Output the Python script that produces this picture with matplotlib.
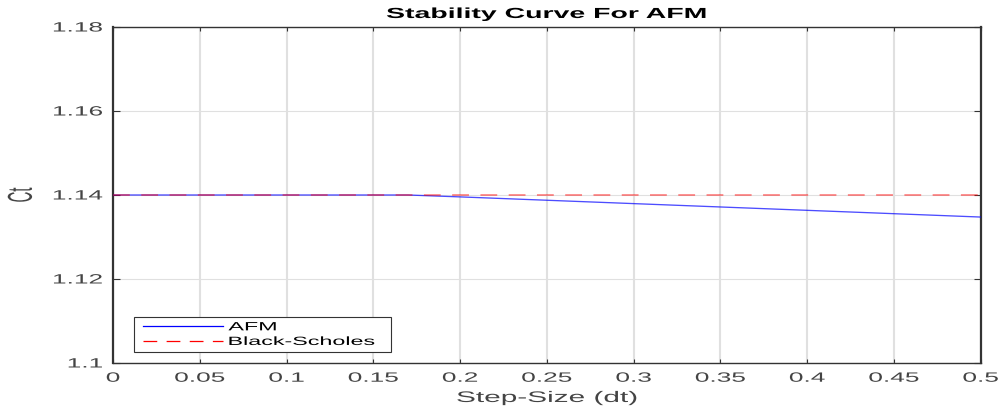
import matplotlib
matplotlib.use("Agg")
import numpy as np
import matplotlib.pyplot as plt
from matplotlib.patches import Rectangle
from matplotlib.patheffects import AbstractPathEffect
from matplotlib.path import Path
from matplotlib.transforms import Affine2D

# Step sizes and option values
dt = [0.0, 0.05, 0.10, 0.15, 0.17, 0.20, 0.25, 0.30, 0.35, 0.40, 0.45, 0.50]
afm = [1.1400, 1.1400, 1.1400, 1.1400, 1.1400, 1.13955, 1.13875, 1.13795, 1.13715, 1.13635, 1.13555, 1.13475]
bs_value = 1.1400

xticks = [0, 0.05, 0.1, 0.15, 0.2, 0.25, 0.3, 0.35, 0.4, 0.45, 0.5]
xtick_labels = ["0", "0.05", "0.1", "0.15", "0.2", "0.25", "0.3", "0.35", "0.4", "0.45", "0.5"]
yticks = [1.10, 1.12, 1.14, 1.16, 1.18]
ytick_labels = ["1.1", "1.12", "1.14", "1.16", "1.18"]


class Stretch(AbstractPathEffect):
    """Widen glyphs along (sx) or across (sy) the text direction."""

    def __init__(self, sx=1.0, sy=1.0, fx=0.5, fy=0.5):
        super().__init__((0, 0))
        self.sx, self.sy, self.fx, self.fy = sx, sy, fx, fy

    def draw_path(self, renderer, gc, tpath, affine, rgbFace=None):
        v = tpath.vertices
        if tpath.codes is not None:
            v = v[tpath.codes != Path.CLOSEPOLY]
        if len(v):
            lo, hi = v.min(axis=0), v.max(axis=0)
            cx = lo[0] + self.fx * (hi[0] - lo[0])
            cy = lo[1] + self.fy * (hi[1] - lo[1])
            pre = Affine2D().translate(-cx, -cy).scale(self.sx, self.sy).translate(cx, cy)
            affine = pre + affine
        renderer.draw_path(gc, tpath, affine, rgbFace)


SX = 1.95
plt.rcParams["font.family"] = ["Liberation Sans", "DejaVu Sans"]

fig = plt.figure(figsize=(10.03, 4.08), dpi=100)
ax = fig.add_axes([0.1127, 0.1103, 0.8651, 0.8235])

ax.plot(dt, afm, color="#0000ff", lw=0.95, alpha=0.7, label="AFM", zorder=3)
ax.plot([dt[0], dt[-1]], [bs_value, bs_value], color="#ff0000", lw=1.1, alpha=0.55,
        dashes=(11, 7.5), label="Black-Scholes", zorder=3)

ax.set_xlim(0, 0.5)
ax.set_ylim(1.10, 1.18)
ax.set_xticks(xticks)
ax.set_xticklabels(xtick_labels)
ax.set_yticks(yticks)
ax.set_yticklabels(ytick_labels)

ax.set_axisbelow(True)
ax.xaxis.grid(True, color="#e0e0e0", lw=1.5)
ax.yaxis.grid(True, color="#e0e0e0", lw=0.8)
ax.tick_params(direction="in", width=0.8, colors="#333333", labelcolor="#444444",
               labelsize=9.7, top=True, right=True)
ax.tick_params(axis="x", length=3, pad=7)
ax.tick_params(axis="y", length=5, pad=7.5)
for name, s in ax.spines.items():
    s.set_color("#333333")
    s.set_linewidth(1.6 if name in ("left", "right") else 1.0)

ax.set_title("Stability Curve For AFM", fontsize=10.5, fontweight="bold", pad=6.5)
ax.set_xlabel("Step-Size (dt)", fontsize=11, color="#444444", labelpad=4.5)
ax.set_ylabel("Ct", fontsize=10.8, color="#444444", va="center")
ax.yaxis.set_label_coords(-0.106, 0.5)

# Legend: white framed box in the lower-left corner
ax.add_patch(Rectangle((0.0242, 0.0327), 0.2962, 0.1042, transform=ax.transAxes,
                       facecolor="white", edgecolor="#333333", lw=0.8, zorder=4.5))
leg = ax.legend(loc="upper left", bbox_to_anchor=(0.0346, 0.124), fontsize=8.6,
                frameon=False, handlelength=6.7, handletextpad=0.45, borderpad=0,
                labelspacing=0.22, borderaxespad=0)
leg.set_zorder(5)
for h in leg.legend_handles:
    h.set_alpha(1.0)
    h.set_linewidth(0.9)

# Widened lettering
for lbl in ax.get_xticklabels():
    lbl.set_path_effects([Stretch(sx=SX, fx=0.5)])
for lbl in ax.get_yticklabels():
    lbl.set_path_effects([Stretch(sx=SX, fx=1.0)])
ax.title.set_path_effects([Stretch(sx=SX, fx=0.5)])
ax.xaxis.label.set_path_effects([Stretch(sx=SX, fx=0.5)])
ax.yaxis.label.set_path_effects([Stretch(sy=2.3, fx=0.5, fy=0.5)])
for t in leg.get_texts():
    t.set_path_effects([Stretch(sx=SX, fx=0.0)])

fig.savefig("out.png", dpi=100)
